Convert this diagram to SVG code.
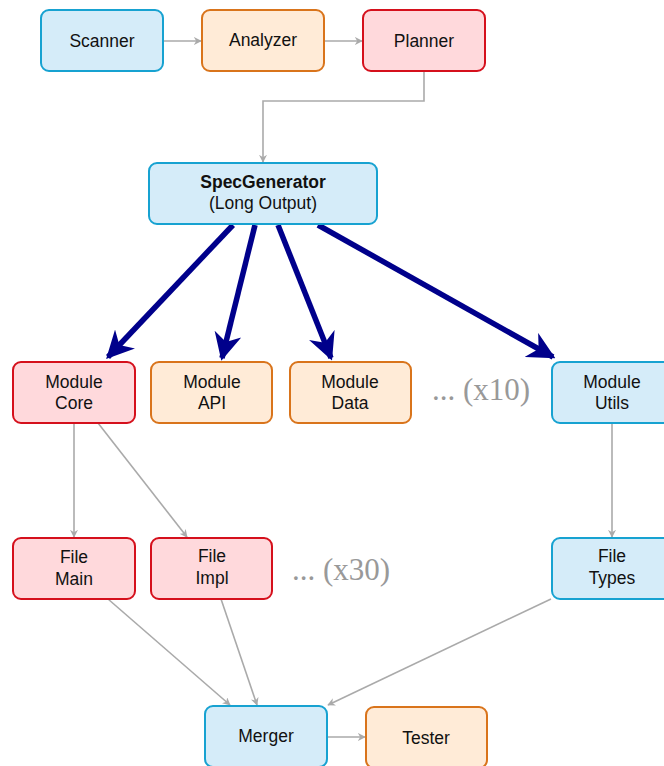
<svg xmlns="http://www.w3.org/2000/svg" width="664" height="766" viewBox="0 0 664 766">
<style>
.n rect{stroke-width:2}
.b rect{fill:#d5ecf9;stroke:#17a2d1}
.o rect{fill:#ffebd7;stroke:#d9741b}
.r rect{fill:#ffd9dc;stroke:#d5101c}
text{font-family:"Liberation Sans",Arial,sans-serif;font-size:17.5px;fill:#111;text-anchor:middle}
.g{stroke:#aaa;stroke-width:1.6;fill:none}
.t{stroke:#00008b;stroke-width:5.5;fill:none}
.dots{font-family:"Liberation Serif","Times New Roman",serif;font-size:31px;fill:#999}
</style>
<defs>
<marker id="ga" viewBox="0 0 10 10" refX="9" refY="5" markerWidth="8" markerHeight="8" markerUnits="userSpaceOnUse" orient="auto">
<path d="M0,0 L10,5 L0,10 L3,5 z" fill="#aaa"/>
</marker>
<marker id="ba" viewBox="0 0 10 10" refX="9" refY="5" markerWidth="5" markerHeight="5" orient="auto">
<path d="M0,0 L10,5 L0,10 L3,5 z" fill="#00008b"/>
</marker>
</defs>
<g id="connectors">
<path class="g" d="M163,41 H201" marker-end="url(#ga)"/>
<path class="g" d="M324,41 H362" marker-end="url(#ga)"/>
<path class="g" d="M424,71 V101 H263 V162" marker-end="url(#ga)"/>
<path class="t" d="M233,225 L108,357" marker-end="url(#ba)"/>
<path class="t" d="M255,225 L222,358" marker-end="url(#ba)"/>
<path class="t" d="M278,225 L331,358" marker-end="url(#ba)"/>
<path class="t" d="M318,225 L553,357" marker-end="url(#ba)"/>
<path class="g" d="M74,423 V537" marker-end="url(#ga)"/>
<path class="g" d="M98,423 L187,537" marker-end="url(#ga)"/>
<path class="g" d="M612,423 V537" marker-end="url(#ga)"/>
<path class="g" d="M108,599 L230,705" marker-end="url(#ga)"/>
<path class="g" d="M221,599 L257,705" marker-end="url(#ga)"/>
<path class="g" d="M551,599 L328,705" marker-end="url(#ga)"/>
<path class="g" d="M327,737 H365" marker-end="url(#ga)"/>
</g>
<g id="scanner" class="n b"><rect x="41" y="10" width="122" height="61" rx="8"/><text x="102" y="47">Scanner</text></g>
<g id="analyzer" class="n o"><rect x="202" y="10" width="122" height="61" rx="8"/><text x="263" y="46">Analyzer</text></g>
<g id="planner" class="n r"><rect x="363" y="10" width="122" height="61" rx="8"/><text x="424" y="47">Planner</text></g>
<g id="specgenerator" class="n b"><rect x="149" y="163" width="228" height="61" rx="8"/><text x="263" y="188" font-weight="bold">SpecGenerator</text><text x="263" y="209">(Long Output)</text></g>
<g id="module-core" class="n r"><rect x="13" y="362" width="122" height="61" rx="8"/><text x="74" y="388">Module</text><text x="74" y="409">Core</text></g>
<g id="module-api" class="n o"><rect x="151" y="362" width="121" height="61" rx="8"/><text x="212" y="388">Module</text><text x="212" y="409">API</text></g>
<g id="module-data" class="n o"><rect x="290" y="362" width="121" height="61" rx="8"/><text x="350" y="388">Module</text><text x="350" y="409">Data</text></g>
<text class="dots" x="481" y="400">... (x10)</text>
<g id="module-utils" class="n b"><rect x="552" y="362" width="122" height="61" rx="8"/><text x="612" y="388">Module</text><text x="612" y="409">Utils</text></g>
<g id="file-main" class="n r"><rect x="13" y="538" width="122" height="61" rx="8"/><text x="74" y="563">File</text><text x="74" y="585">Main</text></g>
<g id="file-impl" class="n r"><rect x="151" y="538" width="121" height="61" rx="8"/><text x="212" y="562">File</text><text x="212" y="584">Impl</text></g>
<text class="dots" x="341" y="580">... (x30)</text>
<g id="file-types" class="n b"><rect x="552" y="538" width="122" height="61" rx="8"/><text x="612" y="562">File</text><text x="612" y="584">Types</text></g>
<g id="merger" class="n b"><rect x="205" y="706" width="122" height="61" rx="8"/><text x="266" y="742">Merger</text></g>
<g id="tester" class="n o"><rect x="366" y="707" width="121" height="61" rx="8"/><text x="426" y="744">Tester</text></g>
</svg>
